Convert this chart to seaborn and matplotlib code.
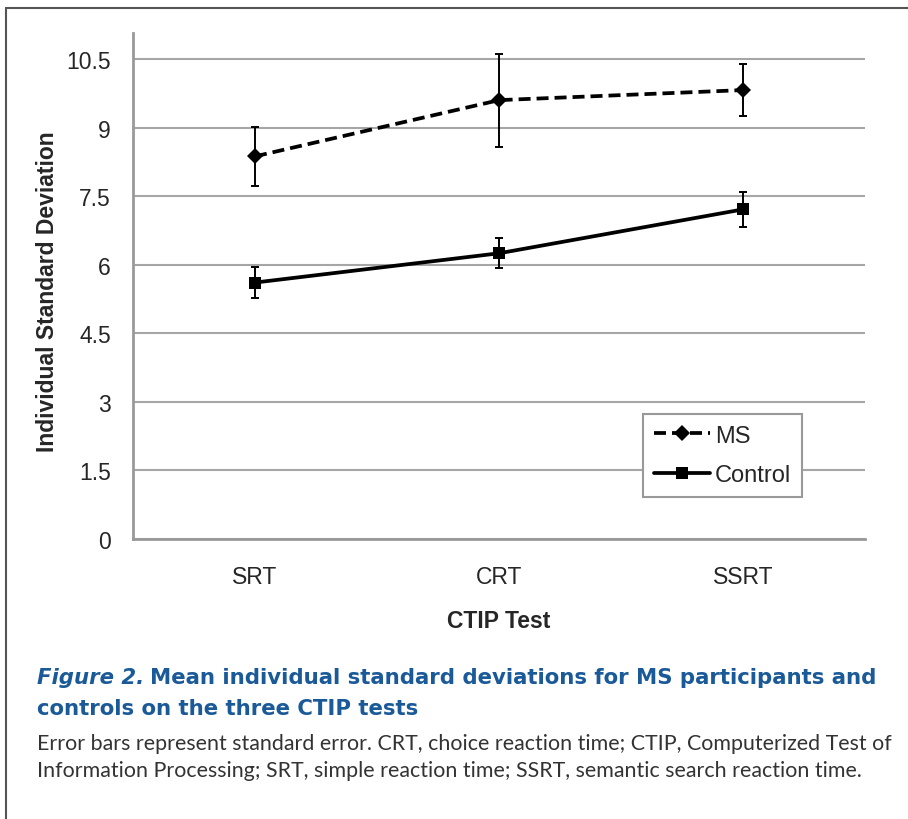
import matplotlib
matplotlib.use("Agg")
import matplotlib.pyplot as plt
import seaborn as sns
import pandas as pd
from matplotlib.lines import Line2D

tests = ["SRT", "CRT", "SSRT"]
ms_mean = [8.37, 9.60, 9.82]
ms_se = [0.64, 1.02, 0.57]
ctrl_mean = [5.61, 6.25, 7.21]
ctrl_se = [0.33, 0.33, 0.39]
yticks = [0, 1.5, 3, 4.5, 6, 7.5, 9, 10.5]

df = pd.DataFrame({
    "test": tests * 2,
    "pos": list(range(len(tests))) * 2,
    "value": ms_mean + ctrl_mean,
    "se": ms_se + ctrl_se,
    "group": ["MS"] * 3 + ["Control"] * 3,
})

sns.set_style("white")
plt.rcParams["font.family"] = ["Liberation Sans", "DejaVu Sans"]

fig = plt.figure(figsize=(9.08, 8.20), dpi=100)
ax = fig.add_axes([133 / 908, 1 - 540 / 820, (865 - 133) / 908, (540 - 34) / 820])

grey = "#999999"
dash = (0, (3.2, 1.6))
styles = {"MS": dict(ls=dash, marker="D", ms=8),
          "Control": dict(ls="-", marker="s", ms=8.5)}

for name in ["MS", "Control"]:
    sub = df[df["group"] == name]
    ax.errorbar(sub["pos"], sub["value"], yerr=sub["se"], fmt="none",
                ecolor="black", elinewidth=1.4, capsize=3, capthick=1.4, zorder=3)
    st = styles[name]
    sns.lineplot(data=sub, x="pos", y="value", color="black", linestyle=st["ls"],
                 marker=st["marker"], markersize=st["ms"], markeredgewidth=0,
                 linewidth=2.7, ax=ax, zorder=4)

ax.set_xlim(-0.5, 2.5)
ax.set_ylim(0, (540 - 34) / (480 / 10.5))
ax.set_yticks(yticks)
ax.set_yticklabels(["0", "1.5", "3", "4.5", "6", "7.5", "9", "10.5"], fontsize=16.5)
ax.set_xticks(range(len(tests)))
ax.set_xticklabels(tests, fontsize=16.5)
ax.set_xticks([-0.5, 0.5, 1.5, 2.5], minor=True)
ax.tick_params(axis="x", which="major", length=0, pad=19)
ax.tick_params(axis="x", which="minor", length=5, width=1.5, color=grey, direction="out")
ax.tick_params(axis="y", length=6, width=1.5, color=grey, direction="out", pad=10)
ax.yaxis.grid(True, color="#a6a6a6", linewidth=1.5)
ax.set_axisbelow(True)
for s in ["top", "right"]:
    ax.spines[s].set_visible(False)
for s in ["left", "bottom"]:
    ax.spines[s].set_color(grey)
    ax.spines[s].set_linewidth(2)

ax.set_ylabel("Individual Standard Deviation", fontsize=16.5, fontweight="bold", va="center")
ax.yaxis.set_label_coords((48 - 133) / 732, 0.49)
ax.set_xlabel("CTIP Test", fontsize=16.5, fontweight="bold", va="center")
ax.xaxis.set_label_coords(0.5, (540 - 621) / 506)

handles = [Line2D([], [], color="black", lw=2.7, ls=dash, marker="D", ms=8, mew=0),
           Line2D([], [], color="black", lw=2.7, ls="-", marker="s", ms=8.5, mew=0)]
leg = ax.legend(handles, ["MS", "Control"], loc="upper left",
                bbox_to_anchor=(643 / 908, 1 - 415 / 820), bbox_transform=fig.transFigure,
                borderaxespad=0, frameon=True, fancybox=False, fontsize=17,
                handlelength=2.4, handletextpad=0.2, labelspacing=0.75,
                borderpad=0.45, framealpha=1)
leg.get_frame().set_edgecolor(grey)
leg.get_frame().set_linewidth(1.5)

blue = "#1b5a98"
tfont = ["DejaVu Sans"]
t1 = fig.text(37 / 908, 1 - 684 / 820, "Figure 2.", fontsize=15.3, fontweight="bold",
              style="italic", color=blue, family=tfont, va="baseline")
ax.annotate("Mean individual standard deviations for MS participants and",
            xy=(1, 0), xycoords=t1, xytext=(4, 0), textcoords="offset points",
            fontsize=15.3, fontweight="bold", color=blue, family=tfont, va="bottom",
            annotation_clip=False)
fig.text(37 / 908, 1 - 715 / 820, "controls on the three CTIP tests", fontsize=15.3,
         fontweight="bold", color=blue, family=tfont, va="baseline")
fig.text(37 / 908, 1 - 744 / 820,
         "Error bars represent standard error. CRT, choice reaction time; CTIP, Computerized Test of",
         fontsize=15.4, color="#333333", family=["Lato", "DejaVu Sans"], va="center")
fig.text(37 / 908, 1 - 771 / 820,
         "Information Processing; SRT, simple reaction time; SSRT, semantic search reaction time.",
         fontsize=15.4, color="#333333", family=["Lato", "DejaVu Sans"], va="center")

fig.add_artist(Line2D([6 / 908, 1], [1 - 9 / 820, 1 - 9 / 820], color="#555555", lw=1.5,
                      transform=fig.transFigure))
fig.add_artist(Line2D([6 / 908, 6 / 908], [0, 1 - 9 / 820], color="#555555", lw=1.5,
                      transform=fig.transFigure))

fig.savefig("out.png", dpi=100)
